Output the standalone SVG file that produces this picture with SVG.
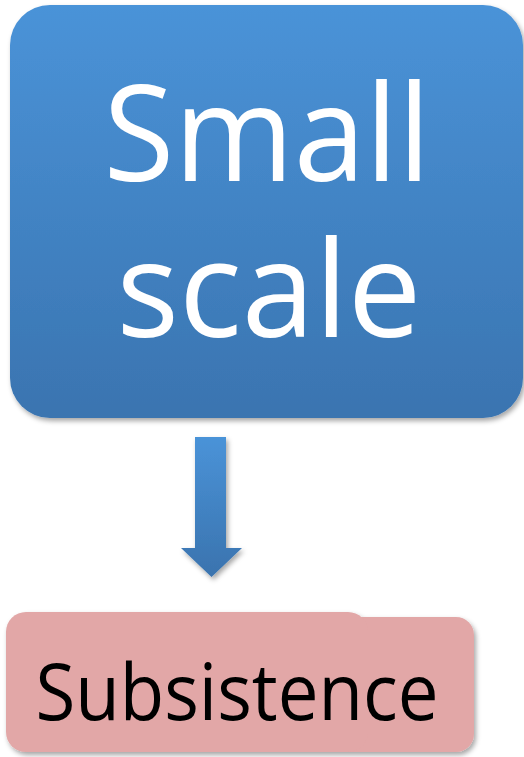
<svg xmlns="http://www.w3.org/2000/svg" width="524" height="757" viewBox="0 0 524 757">
<defs>
<linearGradient id="gBlue" x1="0" y1="0" x2="0" y2="1">
<stop offset="0" stop-color="#4a93d8"/>
<stop offset="1" stop-color="#3a74b0"/>
</linearGradient>
<linearGradient id="gArrow" x1="0" y1="0" x2="0" y2="1">
<stop offset="0" stop-color="#4a93d8"/>
<stop offset="1" stop-color="#3a73ae"/>
</linearGradient>
<filter id="sh" x="-10%" y="-10%" width="120%" height="120%">
<feDropShadow dx="2" dy="3" stdDeviation="2.5" flood-color="#000" flood-opacity="0.35"/>
</filter>
</defs>
<style>
.big{font-family:"Open Sans","Liberation Sans",sans-serif;font-size:134px;fill:#fff;text-anchor:middle}
.lbl{font-family:"Open Sans","Liberation Sans",sans-serif;font-size:78px;fill:#000;text-anchor:middle}
</style>
<g id="node-small-scale">
<rect x="10" y="5" width="513" height="413" rx="40" ry="40" fill="url(#gBlue)" filter="url(#sh)"/>
<text class="big"><tspan x="267" y="181" textLength="327" lengthAdjust="spacingAndGlyphs">Small</tspan><tspan x="269" y="337" textLength="305" lengthAdjust="spacingAndGlyphs">scale</tspan></text>
</g>
<g id="connectors">
<path d="M195,437 H226 V548 H242 L211.5,577 L181,548 H195 Z" fill="url(#gArrow)" filter="url(#sh)"/>
</g>
<g id="node-subsistence">
<g filter="url(#sh)" fill="#e2a7a7">
<rect x="100" y="617" width="374" height="135" rx="18" ry="18"/>
<rect x="6" y="612" width="362" height="140" rx="20" ry="20"/>
</g>
<text class="lbl" x="237" y="720" textLength="403" lengthAdjust="spacingAndGlyphs">Subsistence</text>
</g>
</svg>
